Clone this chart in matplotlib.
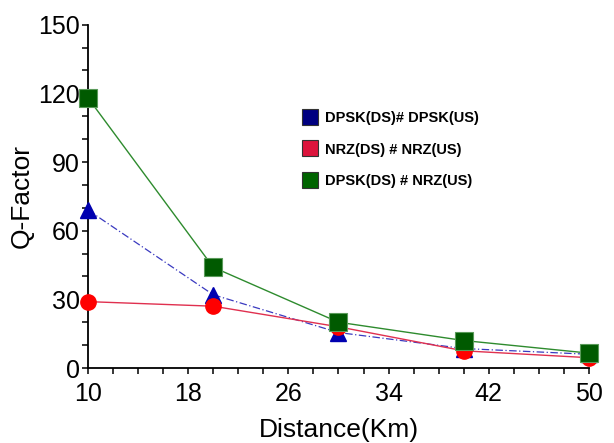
import matplotlib
matplotlib.use("Agg")
import matplotlib.pyplot as plt
from matplotlib.lines import Line2D
from matplotlib.ticker import MultipleLocator, FixedLocator

distance = [10, 20, 30, 40, 50]
dpsk_dpsk = [69, 32, 15.5, 8.5, 6]
nrz_nrz = [29, 27, 18, 7.5, 4.5]
dpsk_nrz = [118, 44, 20, 12, 6.5]

labels = ["DPSK(DS)# DPSK(US)", "NRZ(DS) # NRZ(US)", "DPSK(DS) # NRZ(US)"]
x_ticks = [10, 18, 26, 34, 42, 50]

plt.rcParams['font.family'] = ['Liberation Sans', 'DejaVu Sans']

fig = plt.figure(figsize=(6.14, 4.43), dpi=100)
ax = fig.add_axes([0.1433, 0.1693, 0.8160, 0.7750])

ax.plot(distance, dpsk_dpsk, color='#3a3ac0', lw=0.9, ls=(0, (6, 2, 1, 2)),
        marker='^', ms=12, mfc='#0000b0', mec='#0000b0', clip_on=False, zorder=3)
ax.plot(distance, nrz_nrz, color='#e0304f', lw=1.0, ls='-',
        marker='o', ms=11, mfc='#ff0000', mec='#ff0000', clip_on=False, zorder=4)
ax.plot(distance, dpsk_nrz, color='#2e8b2e', lw=1.0, ls='-',
        marker='s', ms=13, mfc='#005a00', mec='#5a9a5a', mew=0.8, clip_on=False, zorder=5)

ax.set_xlim(10, 50)
ax.set_ylim(0, 150)
ax.xaxis.set_major_locator(FixedLocator(x_ticks))
ax.xaxis.set_minor_locator(MultipleLocator(2))
ax.yaxis.set_major_locator(MultipleLocator(30))
ax.yaxis.set_minor_locator(MultipleLocator(10))

for s in ['top', 'right']:
    ax.spines[s].set_visible(False)
for s in ['left', 'bottom']:
    ax.spines[s].set_linewidth(1.3)

ax.tick_params(which='both', direction='out', length=4, width=1.1, labelsize=18)
ax.tick_params(axis='x', pad=6)
ax.tick_params(axis='y', pad=2)
ax.set_xlabel("Distance(Km)", fontsize=19, labelpad=9)
ax.set_ylabel("Q-Factor", fontsize=19, labelpad=3)

handles = [
    Line2D([], [], ls='none', marker='s', ms=12, mfc='#000080', mec='#333333', mew=0.8),
    Line2D([], [], ls='none', marker='s', ms=12, mfc='#dc143c', mec='#333333', mew=0.8),
    Line2D([], [], ls='none', marker='s', ms=12, mfc='#006400', mec='#333333', mew=0.8),
]
leg = ax.legend(handles, labels, loc='upper left', bbox_to_anchor=(0.472, 0.779),
                bbox_transform=fig.transFigure, frameon=False, handlelength=1.0,
                handletextpad=0.5, labelspacing=1.2,
                prop={'weight': 'bold', 'size': 10.5})

fig.savefig("out.png", dpi=100)
